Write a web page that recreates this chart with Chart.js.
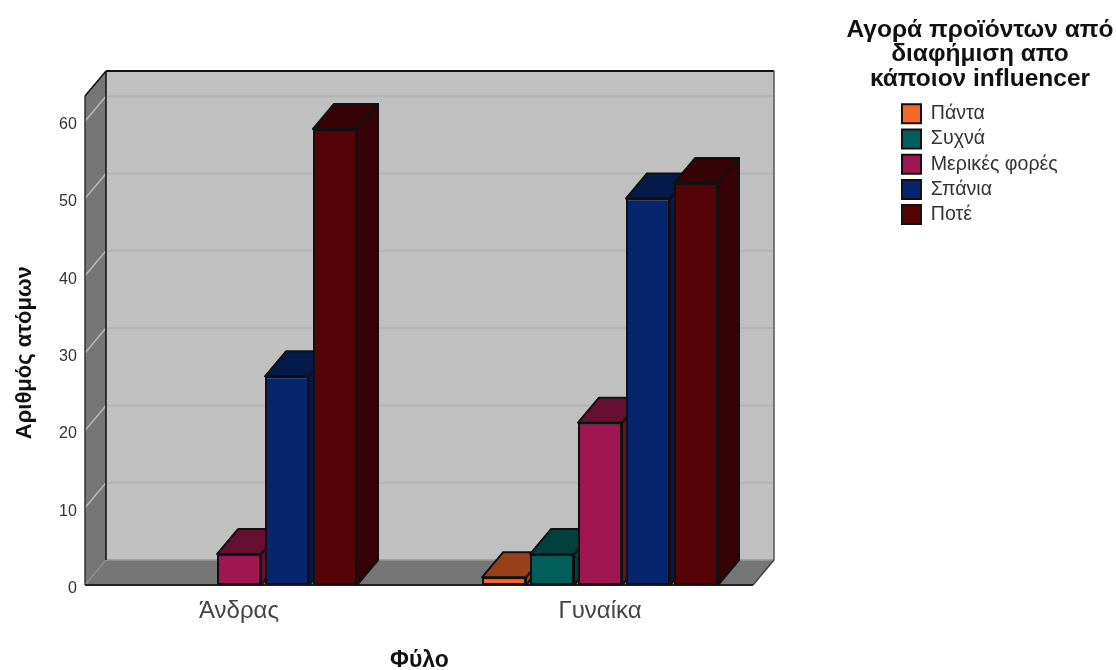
<!DOCTYPE html>
<html>
<head>
<meta charset="utf-8">
<style>html,body{margin:0;padding:0;background:#fff}canvas{display:block}</style>
<script src="https://cdn.jsdelivr.net/npm/chart.js@4/dist/chart.umd.js"></script>
</head>
<body>
<canvas id="c" width="1116" height="670"></canvas>
<script>
// Survey counts by gender
const categories = ['Άνδρας', 'Γυναίκα'];
const seriesNames = ['Πάντα', 'Συχνά', 'Μερικές φορές', 'Σπάνια', 'Ποτέ'];
const pantaValues = [0, 1];
const sychnaValues = [0, 4];
const merikesValues = [4, 21];
const spaniaValues = [27, 50];
const poteValues = [59, 52];
const seriesValues = [pantaValues, sychnaValues, merikesValues, spaniaValues, poteValues];
const frontColors = ['#f7672a', '#005f5a', '#a01650', '#07256f', '#560308'];
const topColors = ['#96411a', '#00403d', '#650f33', '#041a4b', '#360205'];
const sideColors = ['#96411a', '#00403d', '#650f33', '#041a4b', '#360205'];
const yTicks = [0, 10, 20, 30, 40, 50, 60];
const legendTitle = ['Αγορά προϊόντων από', 'διαφήμιση απο', 'κάποιον influencer'];

// Extruded plot frame
const DEPTH_X = 21, DEPTH_Y = 25;
const FRONT_LEFT = 85, FRONT_RIGHT = 753;

function poly(ctx, pts, fill, stroke, lw) {
  ctx.beginPath();
  pts.forEach((p, i) => i ? ctx.lineTo(p[0], p[1]) : ctx.moveTo(p[0], p[1]));
  ctx.closePath();
  if (fill) { ctx.fillStyle = fill; ctx.fill(); }
  if (stroke) { ctx.strokeStyle = stroke; ctx.lineWidth = lw || 1; ctx.stroke(); }
}
function seg(ctx, x1, y1, x2, y2, color, lw) {
  ctx.beginPath(); ctx.moveTo(x1, y1); ctx.lineTo(x2, y2);
  ctx.strokeStyle = color; ctx.lineWidth = lw; ctx.stroke();
}

const frame3d = {
  id: 'frame3d',
  afterLayout(chart) {
    // Place the series key and its heading in the right-hand column
    const lg = chart.legend;
    lg.left = 896.4; lg.top = 98.4; lg.right = 1116; lg.bottom = 320;
    lg.width = lg.right - lg.left; lg.height = lg.bottom - lg.top;
    const t = chart.titleBlock;
    t.left = 835; t.right = 1125; t.width = 290;
  },
  beforeDatasetsDraw(chart) {
    const ctx = chart.ctx, y = chart.scales.y;
    const top = chart.chartArea.top, bottom = chart.chartArea.bottom;
    const L = FRONT_LEFT, R = FRONT_RIGHT, dx = DEPTH_X, dy = DEPTH_Y;
    ctx.save();
    poly(ctx, [[L + dx, top - dy], [R + dx, top - dy], [R + dx, bottom - dy], [L + dx, bottom - dy]], '#c0c0c0');
    poly(ctx, [[L, top], [L + dx, top - dy], [L + dx, bottom - dy], [L, bottom]], '#767676');
    poly(ctx, [[L, bottom], [L + dx, bottom - dy], [R + dx, bottom - dy], [R, bottom]], '#767676');
    yTicks.slice(1).forEach(v => {
      const py = y.getPixelForValue(v);
      seg(ctx, L, py, L + dx, py - dy, '#b8b8b8', 1.5);
      seg(ctx, L + dx, py - dy, R + dx, py - dy, '#b5b5b5', 2);
    });
    seg(ctx, L + dx, bottom - dy, R + dx, bottom - dy, '#9a9a9a', 1.5);
    seg(ctx, L, top, L + dx, top - dy, '#111', 1.5);
    seg(ctx, L + dx, top - dy, R + dx, top - dy, '#111', 2);
    seg(ctx, L + dx, top - dy, L + dx, bottom - dy, '#111', 1.5);
    seg(ctx, R + dx, top - dy, R + dx, bottom - dy, '#555', 1.5);
    seg(ctx, R, bottom, R + dx, bottom - dy, '#444', 1.5);
    seg(ctx, L, top, L, bottom, '#333', 1.5);
    seg(ctx, L, bottom, L + dx, bottom - dy, '#999', 1);
    seg(ctx, L, bottom, R, bottom, '#222', 2);
    ctx.restore();
  },
  // Bars are painted together, left to right, so nearer faces overlap correctly
  beforeDatasetDraw() { return false; },
  afterDatasetsDraw(chart) {
    const ctx = chart.ctx, dx = DEPTH_X, dy = DEPTH_Y;
    categories.forEach((_, c) => {
      seriesValues.forEach((values, s) => {
        if (!values[c]) return;
        const bar = chart.getDatasetMeta(s).data[c];
        const l = bar.x - bar.width / 2, r = bar.x + bar.width / 2, t = bar.y, b = bar.base;
        ctx.save();
        ctx.lineJoin = 'round';
        poly(ctx, [[r, t], [r + dx, t - dy], [r + dx, b - dy], [r, b]], sideColors[s], '#111', 2);
        poly(ctx, [[l, t], [l + dx, t - dy], [r + dx, t - dy], [r, t]], topColors[s], '#111', 2);
        ctx.restore();
        bar.draw(ctx, chart.chartArea);
      });
    });
  }
};

new Chart(document.getElementById('c'), {
  type: 'bar',
  data: {
    labels: categories,
    datasets: seriesNames.map((name, i) => ({
      label: name,
      data: seriesValues[i],
      backgroundColor: frontColors[i],
      borderColor: '#111',
      borderWidth: 2,
      borderSkipped: false
    }))
  },
  options: {
    responsive: false,
    animation: false,
    layout: { padding: { right: 335.5 } },
    datasets: { bar: { categoryPercentage: 240 / 361, barPercentage: 44 / 48 } },
    plugins: {
      tooltip: { enabled: false },
      title: {
        display: true,
        text: legendTitle,
        color: '#111',
        font: { family: 'Liberation Sans', size: 24.5, weight: 'bold', lineHeight: 1 },
        padding: { top: 17.7, bottom: 4.8 }
      },
      legend: {
        position: 'chartArea',
        align: 'start',
        labels: {
          boxWidth: 19,
          boxHeight: 19,
          padding: 5.6,
          color: '#333',
          font: { family: 'Liberation Sans', size: 19.6 }
        }
      }
    },
    scales: {
      x: {
        grid: { display: false },
        border: { display: false },
        afterFit(s) { s.height = 85; },
        ticks: { color: '#444', padding: 4, font: { family: 'Liberation Sans', size: 24 } },
        title: {
          display: true,
          text: 'Φύλο',
          color: '#111',
          font: { family: 'Liberation Sans', size: 23, weight: 'bold' },
          padding: { top: 0, bottom: -4 }
        }
      },
      y: {
        min: 0,
        max: 63.26,
        grid: { display: false, drawTicks: false },
        border: { display: false },
        afterFit(s) { s.width = 58.5; },
        afterBuildTicks(s) { s.ticks = yTicks.map(value => ({ value })); },
        ticks: { color: '#333', mirror: true, crossAlign: 'far', padding: 0.5, labelOffset: 3.5, autoSkip: false, font: { family: 'Liberation Sans', size: 16 } },
        title: {
          display: true,
          text: 'Αριθμός ατόμων    ',
          color: '#111',
          font: { family: 'Liberation Sans', size: 22, weight: 'bold' },
          padding: { top: 12, bottom: 0 }
        }
      }
    }
  },
  plugins: [frame3d]
});
</script>
</body>
</html>
